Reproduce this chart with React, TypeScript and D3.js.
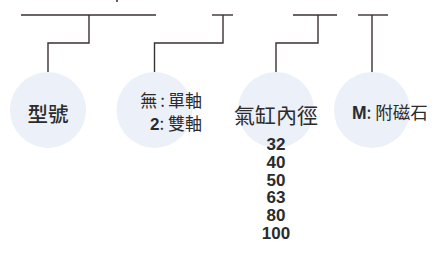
import React from "react";
import * as d3 from "d3";

const nodes = ["型號", "軸", "氣缸內徑", "磁石"];
const circleX = [48, 154.5, 276, 372];
const barStart = [21, 212, 293, 358];
const barEnd = [156, 233, 337, 388];
const stemX = [89, 223, 318, 372];
const sizes = ["32", "40", "50", "63", "80", "100"];

const line = "#3a3132";
const fill = "#ebf0f9";
const txt = "#2b2b2b";
const font = "'Noto Sans CJK TC', 'Liberation Sans', Arial, sans-serif";
const latin = "'Liberation Sans', Arial, sans-serif";

export default function App() {
  const W = 434, H = 259;
  const yTop = 15, yMid = 43, yBot = 72, cy = 110, r = 38;
  const ys = d3.scaleLinear().domain([0, sizes.length - 1]).range([150, 239]);
  const path = (i: number) => {
    const p = d3.path();
    p.moveTo(stemX[i], yTop);
    p.lineTo(stemX[i], yMid);
    p.lineTo(circleX[i], yMid);
    p.lineTo(circleX[i], yBot);
    return p.toString();
  };
  return (
    <svg width={W} height={H} style={{ position: "absolute", left: 0, top: 0, background: "#fff" }}>
      <line x1={117} x2={117} y1={0} y2={2} stroke={line} strokeWidth={1.6} />
      {nodes.map((n, i) => (
        <g key={n}>
          <line x1={barStart[i]} x2={barEnd[i]} y1={yTop} y2={yTop} stroke={line} strokeWidth={1.4} />
          <path d={path(i)} fill="none" stroke={line} strokeWidth={1.4} />
          <circle cx={circleX[i]} cy={cy} r={r} fill={fill} />
        </g>
      ))}
      <text x={circleX[0]} y={122} textAnchor="middle" fontFamily={font} fontSize={20.5} fontWeight={500} fill={txt}>型號</text>
      <text x={202} y={107} textAnchor="end" fontFamily={font} fontSize={17} fill={txt}>
        無<tspan dx={3}>:</tspan><tspan dx={3}>單軸</tspan>
      </text>
      <text x={202} y={130} textAnchor="end" fontFamily={font} fontSize={17} fill={txt}>
        <tspan fontFamily={latin} fontWeight="bold">2</tspan>: 雙軸
      </text>
      <text x={circleX[2]} y={123} textAnchor="middle" fontFamily={font} fontSize={21} fill={txt}>氣缸內徑</text>
      <text x={352} y={119} fontFamily={font} fontSize={17.5} fill={txt}>
        <tspan fontFamily={latin} fontWeight="bold">M</tspan>: 附磁石
      </text>
      {sizes.map((s, i) => (
        <text key={s} x={276} y={ys(i)} textAnchor="middle" fontFamily={latin} fontWeight="bold" fontSize={17} fill={txt}>{s}</text>
      ))}
    </svg>
  );
}
